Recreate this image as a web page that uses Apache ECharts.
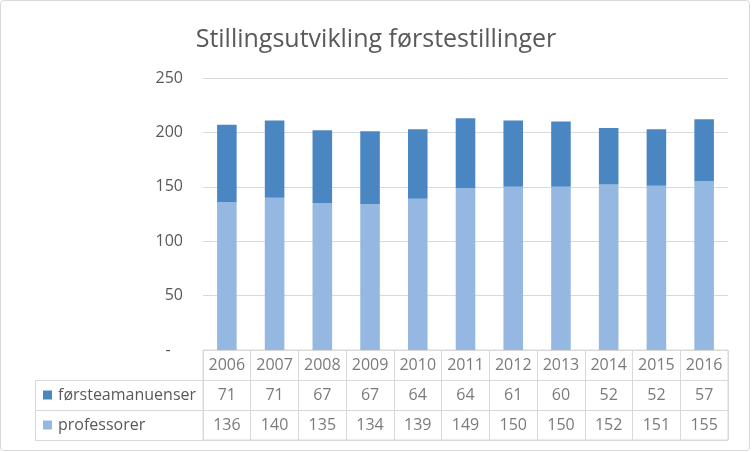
<!DOCTYPE html>
<html><head><meta charset="utf-8">
<script src="https://cdn.jsdelivr.net/npm/echarts@6/dist/echarts.min.js"></script>
<style>html,body{margin:0;padding:0;background:#fff}#c{width:752px;height:452px}</style>
</head><body><div id="c"></div>
<script>
const years = ['2006','2007','2008','2009','2010','2011','2012','2013','2014','2015','2016'];
const forsteamanuenser = [71,71,67,67,64,64,61,60,52,52,57];
const professorer = [136,140,135,134,139,149,150,150,152,151,155];
const yTicks = [0,50,100,150,200,250];
const seriesNames = ['førsteamanuenser','professorer'];
const colorDark = '#4a86c2';
const colorLight = '#95b8e2';
const txt = '#595959';
const line = '#d9d9d9';
const font = 'Open Sans';

const tableData = [];
years.forEach((y,i)=>{
  tableData.push([i,0,y]);
  tableData.push([i,1,forsteamanuenser[i]]);
  tableData.push([i,2,professorer[i]]);
});

const chart = echarts.init(document.getElementById('c'));
chart.setOption({
  animation:false,
  backgroundColor:'#fff',
  textStyle:{fontFamily:font},
  title:{text:'Stillingsutvikling førstestillinger',left:'center',top:22,
    textStyle:{fontFamily:font,fontSize:25,fontWeight:'normal',color:txt}},
  grid:[
    {left:203,right:24,top:78,bottom:102},
    {left:203,right:24,top:350,height:90,show:true,borderColor:line,borderWidth:1}
  ],
  xAxis:[
    {type:'category',data:years,gridIndex:0,axisLabel:{show:false},axisTick:{show:false},
     axisLine:{lineStyle:{color:line}}},
    {type:'category',data:years,gridIndex:1,axisLabel:{show:false},axisTick:{show:false},
     axisLine:{show:false},splitLine:{show:true,interval:0,lineStyle:{color:line}}}
  ],
  yAxis:[
    {type:'value',gridIndex:0,min:yTicks[0],max:yTicks[yTicks.length-1],interval:50,
     axisLine:{show:false},axisTick:{show:false},
     splitLine:{lineStyle:{color:line}},
     axisLabel:{color:txt,fontSize:16,margin:20,fontFamily:font,
       formatter:v=>v===0?'-   ':String(v)}},
    {type:'category',gridIndex:1,inverse:true,data:['',seriesNames[0],seriesNames[1]],
     axisLine:{show:false},axisTick:{show:false},
     splitLine:{show:true,interval:0,lineStyle:{color:line}},
     axisLabel:{align:'left',margin:160,color:txt,fontSize:16,fontFamily:font,
       formatter:(v,i)=>v===''?'':(i===1?'{a|}':'{b|}')+'{g|}'+v,
       rich:{a:{width:9,height:9,backgroundColor:colorDark},
             b:{width:9,height:9,backgroundColor:colorLight},
             g:{width:6}}}}
  ],
  series:[
    {name:seriesNames[1],type:'bar',stack:'s',data:professorer,barWidth:'41%',
     itemStyle:{color:colorLight},xAxisIndex:0,yAxisIndex:0},
    {name:seriesNames[0],type:'bar',stack:'s',data:forsteamanuenser,barWidth:'41%',
     itemStyle:{color:colorDark},xAxisIndex:0,yAxisIndex:0},
    {type:'scatter',xAxisIndex:1,yAxisIndex:1,data:tableData,symbolSize:0,silent:true,
     label:{show:true,position:'inside',formatter:p=>String(p.data[2]),
       color:txt,fontSize:16,fontFamily:font}}
  ],
  graphic:[
    {type:'rect',shape:{x:0.5,y:0.5,width:749,height:450,r:3},
     style:{fill:null,stroke:line,lineWidth:1},silent:true},
    {type:'polyline',shape:{points:[[203,380.5],[35.5,380.5],[35.5,440.5],[203,440.5]]},
     style:{fill:null,stroke:line,lineWidth:1},silent:true},
    {type:'line',shape:{x1:35.5,y1:410.5,x2:203,y2:410.5},
     style:{stroke:line,lineWidth:1},silent:true}
  ]
});
</script></body></html>
